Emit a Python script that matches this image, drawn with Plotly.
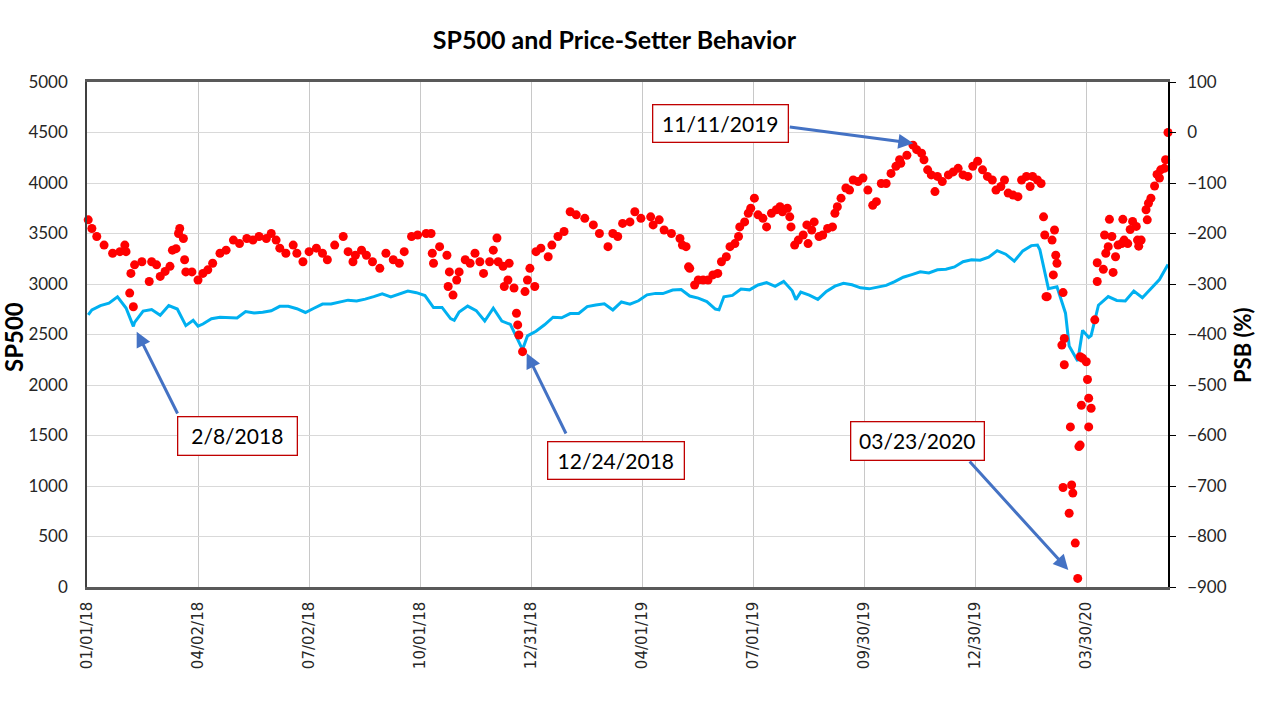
import pandas as pd
import plotly.graph_objects as go

# ---------------- data ----------------
sp_dates = [
    "2018-01-02", "2018-01-05", "2018-01-12", "2018-01-19", "2018-01-26", "2018-02-02", "2018-02-08",
    "2018-02-09", "2018-02-16", "2018-02-23", "2018-03-02", "2018-03-09", "2018-03-16", "2018-03-23",
    "2018-03-29", "2018-04-02", "2018-04-06", "2018-04-13", "2018-04-20", "2018-04-27", "2018-05-04",
    "2018-05-11", "2018-05-18", "2018-05-25", "2018-06-01", "2018-06-08", "2018-06-15", "2018-06-22",
    "2018-06-29", "2018-07-06", "2018-07-13", "2018-07-20", "2018-07-27", "2018-08-03", "2018-08-10",
    "2018-08-17", "2018-08-24", "2018-08-31", "2018-09-07", "2018-09-14", "2018-09-21", "2018-09-28",
    "2018-10-05", "2018-10-12", "2018-10-19", "2018-10-26", "2018-10-29", "2018-11-02", "2018-11-09",
    "2018-11-16", "2018-11-23", "2018-11-30", "2018-12-07", "2018-12-14", "2018-12-21", "2018-12-24",
    "2018-12-28", "2019-01-04", "2019-01-11", "2019-01-18", "2019-01-25", "2019-02-01", "2019-02-08",
    "2019-02-15", "2019-02-22", "2019-03-01", "2019-03-08", "2019-03-15", "2019-03-22", "2019-03-29",
    "2019-04-05", "2019-04-12", "2019-04-18", "2019-04-26", "2019-05-03", "2019-05-10", "2019-05-17",
    "2019-05-24", "2019-05-31", "2019-06-03", "2019-06-07", "2019-06-14", "2019-06-21", "2019-06-28",
    "2019-07-05", "2019-07-12", "2019-07-19", "2019-07-26", "2019-08-02", "2019-08-05", "2019-08-09",
    "2019-08-16", "2019-08-23", "2019-08-30", "2019-09-06", "2019-09-13", "2019-09-20", "2019-09-27",
    "2019-10-04", "2019-10-11", "2019-10-18", "2019-10-25", "2019-11-01", "2019-11-08", "2019-11-15",
    "2019-11-22", "2019-11-29", "2019-12-06", "2019-12-13", "2019-12-20", "2019-12-27", "2020-01-03",
    "2020-01-10", "2020-01-17", "2020-01-24", "2020-01-31", "2020-02-07", "2020-02-14", "2020-02-19",
    "2020-02-21", "2020-02-28", "2020-03-06", "2020-03-13", "2020-03-16", "2020-03-20", "2020-03-23",
    "2020-03-27", "2020-04-01", "2020-04-03", "2020-04-09", "2020-04-17", "2020-04-24", "2020-05-01",
    "2020-05-08", "2020-05-15", "2020-05-22", "2020-05-29", "2020-06-05",
]
sp_values = [
    2695, 2743, 2786, 2810, 2873, 2762, 2581,
    2620, 2732, 2747, 2691, 2786, 2752, 2588,
    2641, 2582, 2604, 2656, 2670, 2670, 2663,
    2728, 2713, 2721, 2735, 2779, 2780, 2755,
    2718, 2760, 2801, 2802, 2819, 2840, 2833,
    2850, 2875, 2902, 2872, 2905, 2930, 2914,
    2886, 2767, 2768, 2658, 2641, 2723, 2781,
    2736, 2633, 2760, 2633, 2600, 2417, 2351,
    2486, 2532, 2596, 2671, 2665, 2707, 2708,
    2776, 2793, 2804, 2743, 2822, 2800, 2834,
    2893, 2907, 2905, 2940, 2946, 2881, 2860,
    2826, 2752, 2744, 2873, 2887, 2950, 2942,
    2990, 3014, 2977, 3026, 2932, 2845, 2919,
    2889, 2847, 2926, 2979, 3007, 2992, 2962,
    2952, 2970, 2986, 3023, 3067, 3093, 3120,
    3110, 3141, 3146, 3169, 3221, 3240, 3235,
    3265, 3330, 3295, 3226, 3328, 3380, 3386,
    3338, 2954, 2972, 2711, 2386, 2305, 2237,
    2541, 2470, 2489, 2790, 2875, 2837, 2831,
    2930, 2864, 2955, 3044, 3194,
]

# PSB: day offset from 01/01/2018 and value (%)
psb_day = [
    1, 4, 8, 14, 21, 27, 31, 32, 35, 36, 38, 39, 45, 51, 53, 57, 60, 64, 68, 70,
    73, 75, 76, 79, 80, 81, 86, 91, 95, 99, 103, 109, 114, 120, 125, 131, 136, 141, 147, 151,
    155, 158, 163, 169, 172, 177, 182, 188, 193, 197, 203, 210, 214, 218, 220, 225, 229, 234, 240, 245,
    251, 256, 260, 266, 271, 278, 282, 283, 284, 289, 295, 296, 297, 300, 303, 305, 310, 314, 318, 322,
    325, 330, 333, 336, 337, 341, 342, 345, 346, 350, 352, 353, 354, 357, 359, 361, 363, 367, 368, 372,
    378, 381, 386, 391, 396, 401, 408, 415, 420, 427, 431, 435, 439, 445, 449, 454, 462, 464, 469, 473,
    479, 486, 488, 491, 493, 494, 498, 501, 505, 509, 513, 517, 520, 524, 527, 531, 534, 535, 539, 542,
    544, 547, 550, 554, 557, 561, 565, 568, 570, 574, 576, 577, 580, 583, 587, 590, 591, 594, 596, 600,
    603, 607, 611, 613, 615, 618, 622, 625, 628, 632, 636, 640, 644, 647, 651, 655, 659, 663, 666, 667,
    672, 677, 680, 684, 686, 689, 692, 695, 697, 701, 706, 710, 714, 718, 722, 726, 730, 734, 738, 742,
    745, 749, 752, 755, 759, 763, 766, 770, 773, 775, 779, 782, 784, 785, 786, 787, 791, 792, 793, 794,
    795, 799, 800, 800, 801, 801, 805, 806, 807, 808, 810, 812, 813, 814, 814, 815, 816, 819, 820, 821,
    821, 823, 826, 828, 828, 833, 834, 835, 837, 838, 840, 841, 843, 845, 848, 849, 850, 853, 855, 857,
    860, 861, 862, 864, 868, 869, 870, 872, 875, 877, 879, 880, 883, 884, 886,
]
psb_values = [
    -173, -190, -206, -223, -239, -236, -223, -236, -318, -279, -345, -262, -256, -295, -256, -262, -285, -275, -265, -233,
    -230, -200, -190, -210, -252, -276, -276, -292, -279, -272, -259, -239, -233, -213, -220, -210, -213, -206, -210, -200,
    -213, -229, -239, -223, -239, -256, -236, -229, -239, -252, -223, -206, -236, -256, -243, -233, -243, -256, -269, -239,
    -252, -259, -236, -206, -203, -200, -200, -239, -259, -226, -243, -305, -276, -322, -292, -276, -252, -259, -239, -256,
    -279, -256, -233, -209, -256, -265, -305, -292, -259, -308, -358, -381, -401, -434, -315, -292, -269, -305, -236, -229,
    -246, -223, -206, -196, -157, -163, -170, -183, -200, -226, -200, -206, -180, -177, -157, -170, -167, -183, -173, -193,
    -200, -210, -223, -226, -266, -269, -302, -292, -292, -292, -282, -279, -256, -246, -226, -220, -206, -187, -177, -160,
    -150, -130, -163, -170, -187, -160, -153, -147, -157, -150, -167, -187, -223, -213, -203, -183, -220, -193, -177, -206,
    -203, -190, -187, -160, -147, -130, -110, -114, -94, -97, -90, -114, -144, -137, -101, -101, -81, -67, -54, -61,
    -45, -25, -34, -41, -54, -74, -84, -117, -87, -97, -84, -78, -71, -84, -87, -67, -57, -74, -87, -94,
    -114, -107, -94, -120, -124, -127, -94, -87, -107, -87, -94, -101, -167, -203, -325, -325, -213, -282, -193, -243,
    -259, -421, -317, -703, -460, -408, -754, -583, -698, -714, -813, -883, -622, -444, -619, -540, -447, -454, -489, -583,
    -526, -546, -371, -295, -258, -271, -203, -239, -226, -172, -206, -277, -246, -223, -220, -172, -213, -220, -192, -176,
    -186, -213, -225, -213, -153, -173, -140, -130, -106, -83, -90, -74, -71, -54, 0,
]

tick_dates = ["2018-01-01", "2018-04-02", "2018-07-02", "2018-10-01", "2018-12-31",
              "2019-04-01", "2019-07-01", "2019-09-30", "2019-12-30", "2020-03-30"]
x_range = ["2018-01-01", "2020-06-05"]

annot_texts = ["2/8/2018", "12/24/2018", "11/11/2019", "03/23/2020"]

# ---------------- figure ----------------
base = pd.Timestamp("2018-01-01")
psb_dates = [base + pd.Timedelta(days=d) for d in psb_day]

fig = go.Figure()
fig.add_trace(go.Scatter(
    x=pd.to_datetime(sp_dates), y=sp_values, mode="lines", name="SP500",
    line=dict(color="#00B0F0", width=3), yaxis="y",
))
fig.add_trace(go.Scatter(
    x=psb_dates, y=psb_values, mode="markers", name="PSB",
    marker=dict(color="#FF0000", size=9), yaxis="y2", cliponaxis=False,
))

tick_font = dict(family="Lato", size=17, color="#262626")

fig.update_layout(
    width=1280, height=720,
    margin=dict(l=87, r=112, t=82, b=133),
    paper_bgcolor="white", plot_bgcolor="white",
    showlegend=False,
    title=dict(text="<b>SP500 and Price-Setter Behavior</b>", x=0.48, xanchor="center",
               y=1 - 40 / 720, yanchor="middle",
               font=dict(family="Lato", size=25, color="#000000")),
    xaxis=dict(
        type="date", range=x_range,
        tickvals=tick_dates, tickformat="%m/%d/%y", tickangle=-90,
        tickfont=dict(family="DejaVu Sans", size=15, color="#262626"),
        ticks="outside", ticklen=6, tickcolor="rgba(0,0,0,0)",
        showgrid=True, gridcolor="#C8C8C8", gridwidth=1.3,
        showline=True, linecolor="#595959", linewidth=2.5, mirror=True,
        zeroline=False,
    ),
    yaxis=dict(
        range=[0, 5000], dtick=500, tick0=0,
        tickfont=tick_font, ticklabelstandoff=14,
        showgrid=True, gridcolor="#D9D9D9", gridwidth=1.3,
        showline=True, linecolor="#404040", linewidth=1.5,
        zeroline=False,
    ),
    yaxis2=dict(
        range=[-900, 100], dtick=100, tick0=-900,
        overlaying="y", side="right",
        tickfont=tick_font, ticks="outside", ticklen=6, tickcolor="#000000",
        ticklabelstandoff=8,
        showgrid=False, showline=True, linecolor="#000000", linewidth=1.5,
        zeroline=False,
    ),
)

# axis titles
fig.add_annotation(text="<b>SP500</b>", xref="paper", yref="paper",
                   x=(13 - 87) / 1081, y=(587 - 337) / 505, textangle=-90,
                   xanchor="center", yanchor="middle",
                   showarrow=False, font=dict(family="Lato", size=24, color="#000000"))
fig.add_annotation(text="<b>PSB (%)</b>", xref="paper", yref="paper",
                   x=(1242 - 87) / 1081, y=(587 - 345) / 505, textangle=-90,
                   xanchor="center", yanchor="middle",
                   showarrow=False, font=dict(family="Lato", size=22, color="#000000"))

# boxes: (center px x, center px y, width, height)
boxes = [(237, 435.5, 118, 37), (615.5, 460, 135, 36), (720, 124, 134, 36), (918, 440.5, 132, 37)]
for txt, (cx, cy, w, h) in zip(annot_texts, boxes):
    fig.add_annotation(text=txt, xref="paper", yref="paper",
                       x=(cx - 87) / 1081, y=(587 - cy) / 505,
                       xanchor="center", yanchor="middle", showarrow=False,
                       width=w, height=h, borderpad=0, borderwidth=1.3,
                       bordercolor="#C00000", bgcolor="white",
                       font=dict(family="Lato", size=21, color="#000000"))

# arrows: head px, tail px
arrows = [((136.7, 331.7), (178.3, 415)), ((526.7, 353.3), (566.7, 435)),
          ((913.3, 143.3), (788.3, 126.7)), ((1068.3, 570), (968.3, 460))]
for (hx, hy), (tx, ty) in arrows:
    fig.add_annotation(text="", xref="paper", yref="paper",
                       x=(hx - 87) / 1081, y=(587 - hy) / 505,
                       ax=tx - hx, ay=ty - hy, showarrow=True,
                       arrowhead=2, arrowsize=1, arrowwidth=3, arrowcolor="#4472C4")

fig.write_html("out.html", config={"displayModeBar": False},
               post_script="document.body.style.margin='0';")
